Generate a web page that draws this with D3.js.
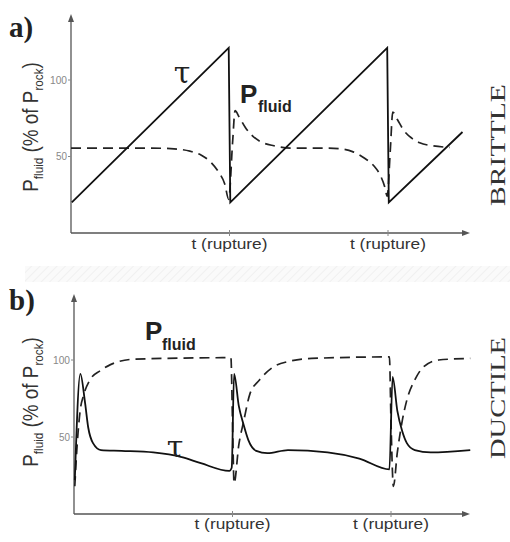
<!DOCTYPE html>
<html><head><meta charset="utf-8">
<script src="https://cdn.jsdelivr.net/npm/d3@7"></script>
<style>body{margin:0;background:#fff}svg{display:block}</style>
</head><body>
<svg id="c" width="510" height="542"></svg>
<script>
// ---- data ----
const ruptureTimes = [1, 2];
const ruptureLabel = "t (rupture)";
const yTicks = [50, 100];
const panelLetters = ["a)", "b)"];
const regimeLabels = ["BRITTLE", "DUCTILE"];

// panel a (brittle): [time in rupture cycles, % of P_rock]
const brittleTau = [[0.005,20],[0.995,121],[1.005,20],[1.995,121],[2.005,20],[2.47,66]];
const brittleFluid = [[0,55.5],[0.5,55.5],[0.65,55],[0.75,53.5],[0.82,51],[0.88,46.5],[0.93,40],[0.97,32],[0.995,22],
  [1.02,60],[1.035,80],[1.06,76],[1.1,69],[1.15,63],[1.2,59.5],[1.28,57],[1.4,55.5],[1.6,55.5],[1.7,55],[1.78,53],
  [1.85,49],[1.91,44],[1.95,38],[1.98,30],[1.995,24],[2.015,55],[2.03,79],[2.06,74],[2.1,67],[2.15,62],[2.2,59],[2.28,57],[2.39,56]];

// panel b (ductile)
const ductileTau = [[0.005,22],[0.04,91],[0.07,72],[0.09,56],[0.12,46],[0.17,41.5],[0.3,41],[0.5,40],[0.68,37],[0.8,33],[0.98,28],
  [0.995,30],[1.01,91],[1.04,70],[1.07,58],[1.1,48],[1.15,41],[1.22,39.5],[1.35,41.5],[1.6,40],[1.8,36],[1.99,29],
  [2.01,89],[2.04,67],[2.07,54],[2.1,46],[2.15,41.5],[2.25,40],[2.5,41.5]];
const ductileFluid = [[0.005,18],[0.02,45],[0.04,68],[0.06,77],[0.1,87],[0.165,93],[0.23,97],[0.375,100.5],[0.99,101.5],
  [1.0,60],[1.01,20],[1.04,45],[1.07,60],[1.11,78],[1.17,87],[1.25,95],[1.35,99],[1.5,101],[1.99,102],
  [2.0,60],[2.015,18],[2.04,40],[2.07,60],[2.1,74],[2.15,87],[2.2,95],[2.3,100],[2.5,101]];

// ---- drawing ----
const svg = d3.select("#c");
const defs = svg.append("defs");
const pat = defs.append("pattern").attr("id","hatch").attr("width",6).attr("height",6)
  .attr("patternUnits","userSpaceOnUse").attr("patternTransform","rotate(45)");
pat.append("rect").attr("width",6).attr("height",6).attr("fill","#fafafa");
pat.append("line").attr("x1",0).attr("y1",0).attr("x2",0).attr("y2",6).attr("stroke","#f0f0f0").attr("stroke-width",2);
svg.append("rect").attr("x",25).attr("y",266).attr("width",485).attr("height",16).attr("fill","url(#hatch)");

const panels = [
  {x0:71, xEnd:470, yAxisTop:14, y0:233, y100:80, tau:brittleTau, fluid:brittleFluid,
   letterY:37, labelCY:127, regimeCY:145, tauPos:[182,83], pPos:[240,103], pSubPos:[258,112], rupLabelY:249},
  {x0:74, xEnd:470, yAxisTop:294, y0:514, y100:360, tau:ductileTau, fluid:ductileFluid,
   letterY:310, labelCY:402, regimeCY:398, tauPos:[175,457], pPos:[145,340], pSubPos:[162,350], rupLabelY:529}
];

panels.forEach((p,i) => {
  const x = d3.scaleLinear().domain([0,2]).range([p.x0, p.x0 + 2*158.5]);
  const y = d3.scaleLinear().domain([0,100]).range([p.y0, p.y100]);
  const g = svg.append("g");
  const axisColor = "#555";
  // axes
  g.append("line").attr("x1",p.x0).attr("y1",p.y0).attr("x2",p.x0).attr("y2",p.yAxisTop+6)
    .attr("stroke",axisColor).attr("stroke-width",1.3);
  g.append("path").attr("d",`M${p.x0-3},${p.yAxisTop+8}L${p.x0},${p.yAxisTop}L${p.x0+3},${p.yAxisTop+8}Z`).attr("fill",axisColor);
  g.append("line").attr("x1",p.x0).attr("y1",p.y0).attr("x2",p.xEnd-6).attr("y2",p.y0)
    .attr("stroke",axisColor).attr("stroke-width",1.3);
  g.append("path").attr("d",`M${p.xEnd-8},${p.y0-3}L${p.xEnd},${p.y0}L${p.xEnd-8},${p.y0+3}Z`).attr("fill",axisColor);
  // y ticks
  yTicks.forEach(v => {
    g.append("line").attr("x1",p.x0-3).attr("x2",p.x0).attr("y1",y(v)).attr("y2",y(v)).attr("stroke","#888");
    g.append("text").attr("x",p.x0-4).attr("y",y(v)+3.5).attr("text-anchor","end")
      .attr("font-family","Liberation Sans, Arial, sans-serif").attr("font-size",10).attr("fill","#888")
      .attr("textLength", v>=100?17:11).attr("lengthAdjust","spacingAndGlyphs").text(v);
  });
  // x ticks
  ruptureTimes.forEach(t => {
    g.append("line").attr("x1",x(t)).attr("x2",x(t)).attr("y1",p.y0-3).attr("y2",p.y0+3).attr("stroke","#888");
    g.append("text").attr("x",x(t)).attr("y",p.rupLabelY).attr("text-anchor","middle")
      .attr("font-family","Liberation Sans, Arial, sans-serif").attr("font-size",15).attr("fill","#333")
      .attr("textLength",76).attr("lengthAdjust","spacingAndGlyphs").text(ruptureLabel);
  });
  const line = d3.line().x(d=>x(d[0])).y(d=>y(d[1])).curve(d3.curveMonotoneX);
  g.append("path").datum(p.fluid).attr("d",line).attr("fill","none").attr("stroke","#222")
    .attr("stroke-width",1.7).attr("stroke-dasharray","10,6");
  g.append("path").datum(p.tau).attr("d",d3.line().x(d=>x(d[0])).y(d=>y(d[1])).curve(i===0?d3.curveLinear:d3.curveMonotoneX))
    .attr("fill","none").attr("stroke","#111").attr("stroke-width",1.8);
  // panel letter
  g.append("text").attr("x",9).attr("y",p.letterY).attr("font-family","Liberation Serif, DejaVu Serif, serif")
    .attr("font-weight","bold").attr("font-size",29).attr("fill","#222").text(panelLetters[i]);
  // y label
  const yl = g.append("text").attr("transform",`translate(38,${p.labelCY}) rotate(-90) scale(0.9,1.05)`).attr("text-anchor","middle")
    .attr("font-family","Liberation Sans, Arial, sans-serif").attr("font-size",21).attr("fill","#333");
  yl.append("tspan").text("P");
  yl.append("tspan").attr("font-size",13).attr("dy",5).text("fluid");
  yl.append("tspan").attr("dy",-5).text(" (% of P");
  yl.append("tspan").attr("font-size",13).attr("dy",5).text("rock");
  yl.append("tspan").attr("dy",-5).text(")");
  // regime label
  g.append("text").attr("transform",`translate(505,${p.regimeCY}) rotate(-90)`).attr("text-anchor","middle")
    .attr("font-family","Liberation Serif, DejaVu Serif, serif").attr("font-size",22).attr("fill","#333")
    .attr("textLength",122).attr("lengthAdjust","spacingAndGlyphs").text(regimeLabels[i]);
  // tau label
  g.append("text").attr("x",p.tauPos[0]).attr("y",p.tauPos[1]).attr("text-anchor","middle")
    .attr("font-family","DejaVu Serif, serif").attr("font-size",30).attr("fill","#222").text("τ");
  // P fluid label
  g.append("text").attr("x",p.pPos[0]).attr("y",p.pPos[1]).attr("font-family","Liberation Sans, Arial, sans-serif")
    .attr("font-weight","bold").attr("font-size",26).attr("fill","#222").text("P");
  g.append("text").attr("x",p.pSubPos[0]).attr("y",p.pSubPos[1]).attr("font-family","Liberation Sans, Arial, sans-serif")
    .attr("font-weight","bold").attr("font-size",16).attr("fill","#222").text("fluid");
});
</script>
</body></html>
